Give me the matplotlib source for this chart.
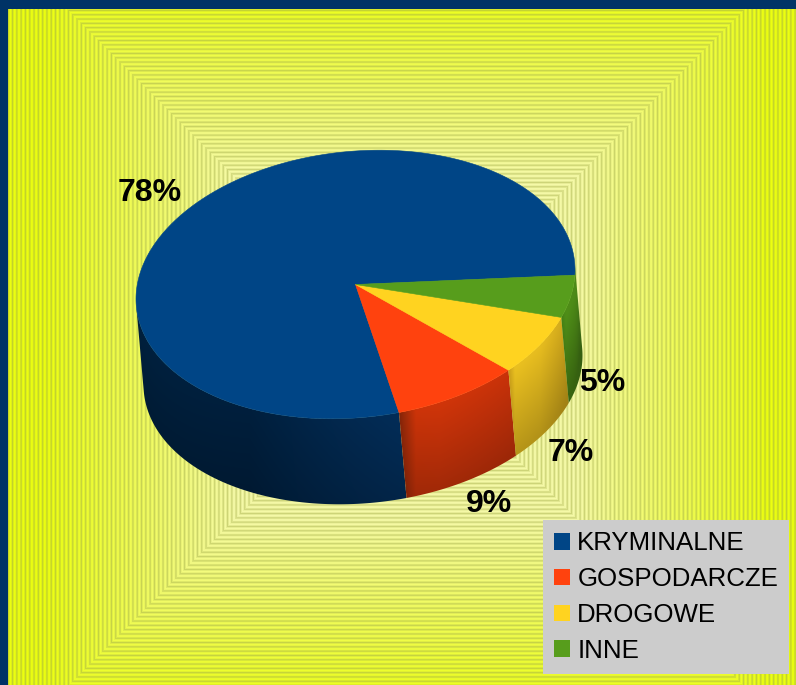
import numpy as np
import matplotlib
matplotlib.use("Agg")
import matplotlib.pyplot as plt
from matplotlib.patches import Polygon, Rectangle
from matplotlib.colors import to_rgb

categories = ["KRYMINALNE", "GOSPODARCZE", "DROGOWE", "INNE"]
percent = [78, 9, 7, 5]
colors = ["#004586", "#ff420e", "#ffd320", "#579d1c"]

W, H = 796, 685
plt.rcParams["font.family"] = ["Liberation Sans", "DejaVu Sans"]
fig = plt.figure(figsize=(W / 100, H / 100), dpi=100, facecolor="#003366")
ax = fig.add_axes([0, 0, 1, 1])
ax.set_xlim(0, W)
ax.set_ylim(H, 0)
ax.axis("off")

# ---------- background: concentric square stripes ----------
xx, yy = np.meshgrid(np.arange(W) + .5, np.arange(H) + .5)
d = np.maximum(np.abs(xx - 406), np.abs(yy - 348))
t = np.clip((d - 170) / 190, 0, 1)[..., None]
period = 4.3
s = (0.5 + 0.5 * np.cos(2 * np.pi * d / period))[..., None] ** 0.6
def mix(a, b):
    return np.array(to_rgb(a)) * (1 - t) + np.array(to_rgb(b)) * t
bright = mix("#f6faa8", "#ecff10")
dark = mix("#cdd478", "#c2d22c")
bg = dark * (1 - s) + bright * s
bg[:9, :] = to_rgb("#003366")
bg[:, :8] = to_rgb("#003366")
ax.imshow(bg, extent=(0, W, H, 0), interpolation="nearest", aspect="auto", zorder=0)

# ---------- pie geometry ----------
cx, cy, rx, ry, skew = 355.5, 284.5, 219.5, 133.5, 14.5
dx, dy = 7.5, 85.5
start = -2.2
shares = np.array(percent) / np.sum(percent)
edges = start + np.concatenate([[0], np.cumsum(shares) * 360])

def arc(a0, a1, ox=0.0, oy=0.0, n=300):
    a = np.radians(np.linspace(a0, a1, n))
    return np.column_stack([cx + ox + rx * np.cos(a),
                            cy + oy - ry * np.sin(a) - skew * np.cos(a)])

# side shading: colour stops along x, darkening downward
side_stops = [
    ([136, 250, 330, 400, 410], ["#00213f", "#001f3d", "#02274c", "#032d58", "#032d58"], 0.82),
    ([398, 404, 416, 440, 517], ["#7c2208", "#9a2a09", "#cd3409", "#d0350a", "#c8320a"], 0.78),
    ([510, 515, 540, 570], ["#cfa41b", "#eac020", "#e6bc1f", "#cda41b"], 0.78),
    ([560, 566, 575, 585], ["#3f7a14", "#4f8e18", "#4d8a17", "#47801a"], 0.72),
]
xg, yg = np.meshgrid(np.arange(130, 590) + .5, np.arange(255, 510) + .5)
c = np.clip((xg - cx - dx / 2) / rx, -1, 1)
ytop = cy + ry * np.sqrt(1 - c ** 2) - skew * c

for i in range(4):
    a0, a1 = edges[i], edges[i + 1]
    lo, hi = a0, a1
    if i == 0:
        lo = 183.0   # the front part of the big slice begins at the left tangent
    if i == 3:
        hi = 363.0   # last slice reaches the right tangent
    poly = Polygon(np.vstack([arc(lo, hi), arc(hi, lo, dx, dy)]), closed=True,
                   fc="none", ec="none", transform=ax.transData)
    ax.add_patch(poly)
    sx, scol, fall = side_stops[i]
    rgb = np.array([to_rgb(k) for k in scol])
    shade = np.stack([np.interp(xg, sx, rgb[:, k]) for k in range(3)], axis=-1)
    v = np.clip((yg - ytop) / dy, 0, 1)[..., None]
    shade = shade * (1 - (1 - fall) * v)
    im = ax.imshow(shade, extent=(130, 590, 510, 255), interpolation="bilinear",
                   aspect="auto", zorder=2)
    im.set_clip_path(poly)

for i in range(4):
    pts = np.vstack([[cx, cy], arc(edges[i], edges[i + 1])])
    ax.add_patch(Polygon(pts, closed=True, fc=colors[i], ec=colors[i], lw=.4, zorder=3))

ax.set_xlim(0, W)
ax.set_ylim(H, 0)

# ---------- percent labels ----------
label_xy = [(149.5, 192.5), (489, 503.5), (570.5, 452.5), (602, 382.5)]
for (lx, ly), p in zip(label_xy, percent):
    ax.text(lx, ly, f"{p}%", fontsize=23, fontweight="bold", color="black",
            ha="center", va="center", zorder=5)

# ---------- legend ----------
handles = [Rectangle((0, 0), 1, 1, fc=k, ec="none") for k in colors]
leg = ax.legend(handles, categories, loc="lower left",
                bbox_to_anchor=(543 / W, (H - 674) / H), bbox_transform=ax.transAxes,
                prop={"size": 18.6}, frameon=True, facecolor="#cccccc", edgecolor="none",
                fancybox=False, framealpha=1, borderaxespad=0, borderpad=0.43,
                handlelength=.62, handleheight=.62, handletextpad=.28, labelspacing=.46)
leg.set_zorder(6)
leg.get_frame().set_linewidth(0)

fig.savefig("out.png", dpi=100, facecolor=fig.get_facecolor())
